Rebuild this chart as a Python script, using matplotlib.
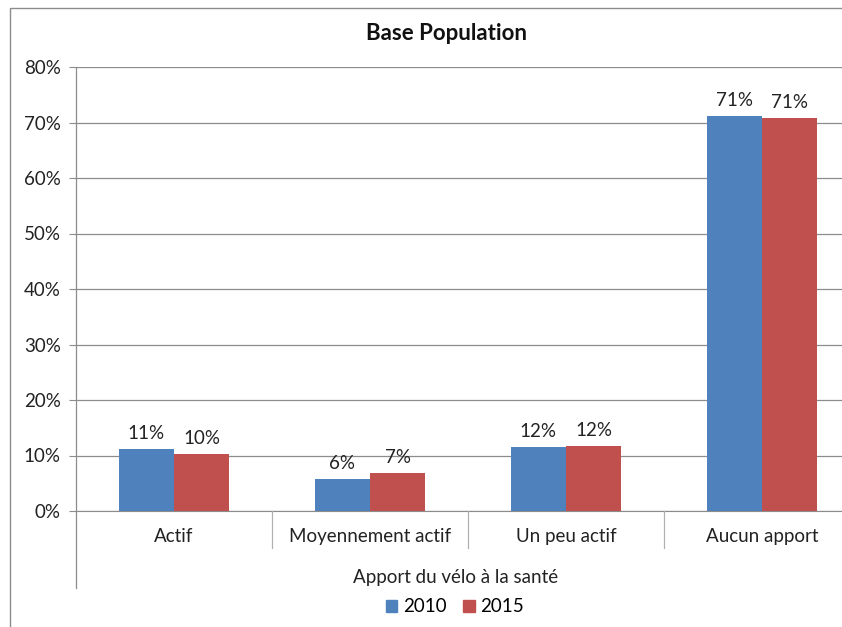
import matplotlib
matplotlib.use("Agg")
import matplotlib.pyplot as plt
from matplotlib.lines import Line2D
from matplotlib.patches import Rectangle, Patch
import numpy as np

plt.rcParams['font.family'] = ['Lato', 'DejaVu Sans']

categories = ["Actif", "Moyennement actif", "Un peu actif", "Aucun apport"]
series_names = ["2010", "2015"]
values_2010 = [0.112, 0.058, 0.115, 0.712]
values_2015 = [0.103, 0.068, 0.118, 0.708]
labels_2010 = ["11%", "6%", "12%", "71%"]
labels_2015 = ["10%", "7%", "12%", "71%"]
yticks = [0, 0.1, 0.2, 0.3, 0.4, 0.5, 0.6, 0.7, 0.8]
ytick_labels = ["0%", "10%", "20%", "30%", "40%", "50%", "60%", "70%", "80%"]

W, H = 842, 627
fig = plt.figure(figsize=(W/100, H/100), dpi=100)
fx = lambda px: px / W
fy = lambda py: 1 - py / H

# outer chart border
fig.add_artist(Rectangle((fx(10), fy(640)), fx(860), fy(8) - fy(640), transform=fig.transFigure,
                         fill=False, edgecolor='#8c8c8c', linewidth=1.0))

ax = fig.add_axes([fx(76), fy(511), fx(860) - fx(76), fy(67) - fy(511)])
blue = '#4F81BD'
red = '#C0504D'
grid_c = '#8c8c8c'
fs = 13.5
x = np.arange(len(categories))
bw = 0.283
b1 = ax.bar(x - bw/2, values_2010, bw, color=blue, label=series_names[0], zorder=3)
b2 = ax.bar(x + bw/2, values_2015, bw, color=red, label=series_names[1], zorder=3)
for bars, labs in ((b1, labels_2010), (b2, labels_2015)):
    for r, t in zip(bars, labs):
        ax.annotate(t, (r.get_x() + r.get_width()/2, r.get_height()), xytext=(0, 5),
                    textcoords='offset points', ha='center', va='bottom', fontsize=fs, color='#222222')

ax.set_xlim(-0.5, len(categories) - 0.5)
ax.set_ylim(0, 0.8)
ax.set_yticks(yticks)
ax.set_yticklabels(ytick_labels, fontsize=fs, color='#222222')
ax.yaxis.grid(True, color=grid_c, linewidth=0.9, zorder=0)
ax.set_axisbelow(True)
for s in ['top', 'right', 'left']:
    ax.spines[s].set_visible(False)
ax.spines['bottom'].set_color(grid_c)
ax.tick_params(axis='y', length=5, color=grid_c, pad=6)
ax.set_xticks(x)
ax.set_xticklabels(categories, fontsize=fs, color='#222222')
ax.tick_params(axis='x', length=0, pad=12)

# y-axis line extended downward
fig.add_artist(Line2D([fx(76), fx(76)], [fy(67), fy(588)], transform=fig.transFigure,
                      color=grid_c, linewidth=0.9))
# category separators
for b in [0.5, 1.5, 2.5]:
    xd = ax.transData.transform((b, 0))[0] / fig.dpi / fig.get_figwidth()
    fig.add_artist(Line2D([xd, xd], [fy(511), fy(548)], transform=fig.transFigure,
                          color='#b0b0b0', linewidth=0.9))

fig.text(fx(446), fy(33), "Base Population", ha='center', va='center', fontsize=16, fontweight='bold',
         color='#111111')
fig.text(fx(456), fy(577), "Apport du vélo à la santé", ha='center', va='center', fontsize=fs,
         color='#222222')

handles = [Patch(color=blue), Patch(color=red)]
fig.legend(handles, series_names, loc='center', bbox_to_anchor=(fx(455), fy(607)), ncol=2, frameon=False,
           fontsize=fs, handlelength=0.6, handleheight=0.6, handletextpad=0.3, columnspacing=0.9)

fig.savefig("out.png", dpi=100)
